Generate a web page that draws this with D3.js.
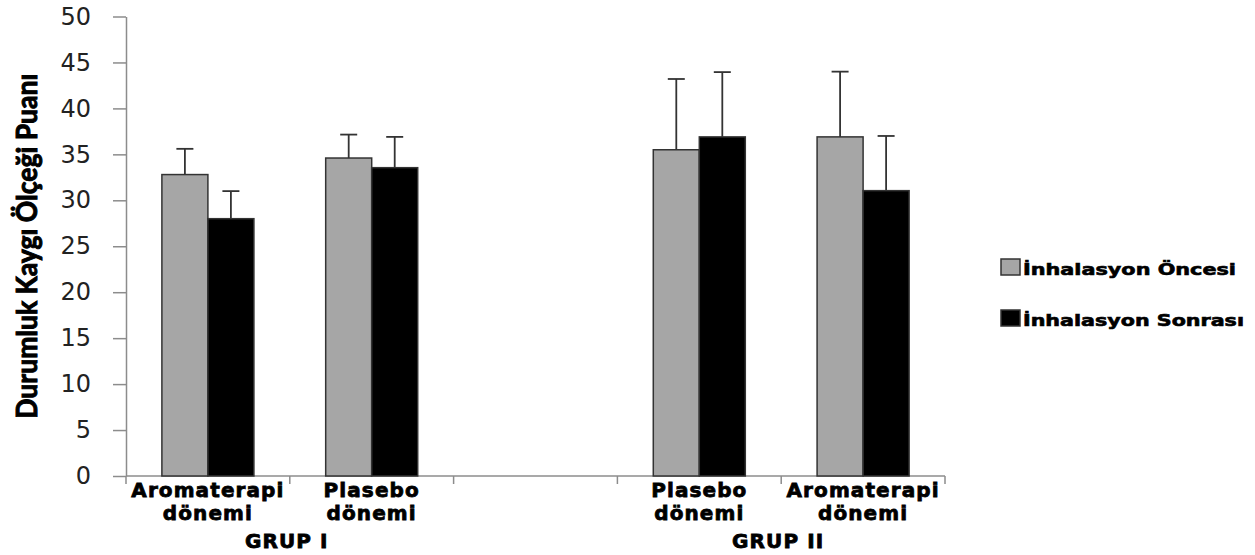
<!DOCTYPE html>
<html>
<head>
<meta charset="utf-8">
<script src="https://cdn.jsdelivr.net/npm/d3@7"></script>
<style>
  body { margin: 0; background: #fff; }
  svg { display: block; }
</style>
</head>
<body>
<script>
// data
const categories = ["Aromaterapi dönemi", "Plasebo dönemi", "", "Plasebo dönemi", "Aromaterapi dönemi"];
const groups = ["GRUP I", "GRUP II"];
const groupSpans = [[0, 1], [3, 4]];
const seriesNames = ["İnhalasyon Öncesi", "İnhalasyon Sonrası"];
const oncesi = [32.8, 34.6, null, 35.5, 36.9];
const oncesiSD = [2.8, 2.55, null, 7.7, 7.1];
const sonrasi = [28.0, 33.55, null, 36.9, 31.05];
const sonrasiSD = [3.0, 3.35, null, 7.05, 5.95];
const yTicks = [0, 5, 10, 15, 20, 25, 30, 35, 40, 45, 50];
// data

const W = 1255, H = 555;
const margin = { top: 16.5, left: 126, right: 310, bottom: 79 };
const colors = ["#a6a6a6", "#000000"];

const svg = d3.select("body").append("svg")
  .attr("width", W)
  .attr("height", H);

const y = d3.scaleLinear()
  .domain([0, 50])
  .range([H - margin.bottom, margin.top]);

const x = d3.scaleBand()
  .domain(d3.range(categories.length))
  .range([margin.left, W - margin.right])
  .padding(0);

const xSub = d3.scaleBand()
  .domain([0, 1])
  .range([0, x.bandwidth()])
  .paddingInner(0)
  .paddingOuter(0.78);

// y axis
const yAxis = svg.append("g")
  .attr("transform", `translate(${margin.left},0)`)
  .call(d3.axisLeft(y).tickValues(yTicks).tickSize(13).tickSizeOuter(0).tickPadding(22));
yAxis.select(".domain").attr("stroke", "#8c8c8c").attr("stroke-width", 1.5);
yAxis.selectAll(".tick line").attr("stroke", "#8c8c8c").attr("stroke-width", 1.5);
yAxis.selectAll(".tick text")
  .attr("font-family", "DejaVu Sans")
  .attr("font-size", 24)
  .attr("fill", "#222");

// x axis line + boundary ticks
const x0 = y(0);
svg.append("line")
  .attr("x1", x.range()[0]).attr("x2", x.range()[1])
  .attr("y1", x0).attr("y2", x0)
  .attr("stroke", "#8c8c8c").attr("stroke-width", 1.5);

const bounds = d3.range(categories.length + 1).map(i => i < categories.length ? x(i) : x.range()[1]);
svg.selectAll(".xtick")
  .data(bounds)
  .enter().append("line")
  .attr("class", "xtick")
  .attr("x1", d => d).attr("x2", d => d)
  .attr("y1", x0).attr("y2", x0 + 8)
  .attr("stroke", "#8c8c8c").attr("stroke-width", 1.5);

// bars
const series = [
  { vals: oncesi, sd: oncesiSD },
  { vals: sonrasi, sd: sonrasiSD }
];
series.forEach((s, si) => {
  const rows = categories.map((c, i) => ({ i, v: s.vals[i], sd: s.sd[i] })).filter(d => d.v != null);

  svg.selectAll(".err" + si)
    .data(rows)
    .enter().append("line")
    .attr("x1", d => x(d.i) + xSub(si) + xSub.bandwidth() / 2)
    .attr("x2", d => x(d.i) + xSub(si) + xSub.bandwidth() / 2)
    .attr("y1", d => y(d.v))
    .attr("y2", d => y(d.v + d.sd))
    .attr("stroke", "#333").attr("stroke-width", 1.8);
  svg.selectAll(".cap" + si)
    .data(rows)
    .enter().append("line")
    .attr("x1", d => x(d.i) + xSub(si) + xSub.bandwidth() / 2 - 8.5)
    .attr("x2", d => x(d.i) + xSub(si) + xSub.bandwidth() / 2 + 8.5)
    .attr("y1", d => y(d.v + d.sd))
    .attr("y2", d => y(d.v + d.sd))
    .attr("stroke", "#333").attr("stroke-width", 1.8);

  svg.selectAll(".bar" + si)
    .data(rows)
    .enter().append("rect")
    .attr("x", d => x(d.i) + xSub(si))
    .attr("width", xSub.bandwidth())
    .attr("y", d => y(d.v))
    .attr("height", d => y(0) - y(d.v))
    .attr("fill", colors[si])
    .attr("stroke", "#333")
    .attr("stroke-width", 1.5);
});

// category labels
const catLabels = svg.selectAll(".cat")
  .data(categories)
  .enter().append("text")
  .attr("class", "cat")
  .attr("text-anchor", "middle")
  .attr("font-family", "DejaVu Sans")
  .attr("font-weight", "bold")
  .attr("font-size", 20)
  .attr("letter-spacing", 1.1)
  .attr("stroke", "#000").attr("stroke-width", 0.8)
  .attr("fill", "#000");
catLabels.each(function(d, i) {
  const parts = d.split(" ");
  const t = d3.select(this);
  parts.forEach((p, k) => {
    t.append("tspan")
      .attr("x", x(i) + x.bandwidth() / 2)
      .attr("y", x0 + 21 + k * 23)
      .text(p);
  });
});

// group labels
svg.selectAll(".grp")
  .data(groups)
  .enter().append("text")
  .attr("class", "grp")
  .attr("text-anchor", "middle")
  .attr("font-family", "DejaVu Sans")
  .attr("font-weight", "bold")
  .attr("font-size", 20)
  .attr("letter-spacing", 1.1)
  .attr("stroke", "#000").attr("stroke-width", 0.8)
  .attr("x", (d, i) => (x(groupSpans[i][0]) + x(groupSpans[i][1]) + x.bandwidth()) / 2 - 3)
  .attr("y", x0 + 72)
  .text(d => d);

// y label
svg.append("text")
  .attr("transform", `translate(37,${(y(0) + y(50)) / 2}) rotate(-90)`)
  .attr("text-anchor", "middle")
  .attr("font-family", "Lato")
  .attr("font-weight", "bold")
  .attr("font-size", 29)
  .attr("stroke", "#000").attr("stroke-width", 1)
  .attr("textLength", 345)
  .attr("lengthAdjust", "spacingAndGlyphs")
  .text("Durumluk Kaygı Ölçeği Puanı");

// legend
const legend = svg.append("g").attr("transform", "translate(1001,259)");
const lg = legend.selectAll(".lg")
  .data(seriesNames)
  .enter().append("g")
  .attr("transform", (d, i) => `translate(0,${i * 51})`);
lg.append("rect")
  .attr("width", 19).attr("height", 16)
  .attr("fill", (d, i) => colors[i])
  .attr("stroke", "#333").attr("stroke-width", 1.5);
lg.append("text")
  .attr("x", 22).attr("y", 16)
  .attr("font-family", "DejaVu Sans")
  .attr("font-weight", "bold")
  .attr("font-size", 15)
  .attr("stroke", "#000").attr("stroke-width", 0.6)
  .attr("textLength", (d, i) => i === 0 ? 213 : 221)
  .attr("lengthAdjust", "spacingAndGlyphs")
  .text(d => d);
</script>
</body>
</html>
